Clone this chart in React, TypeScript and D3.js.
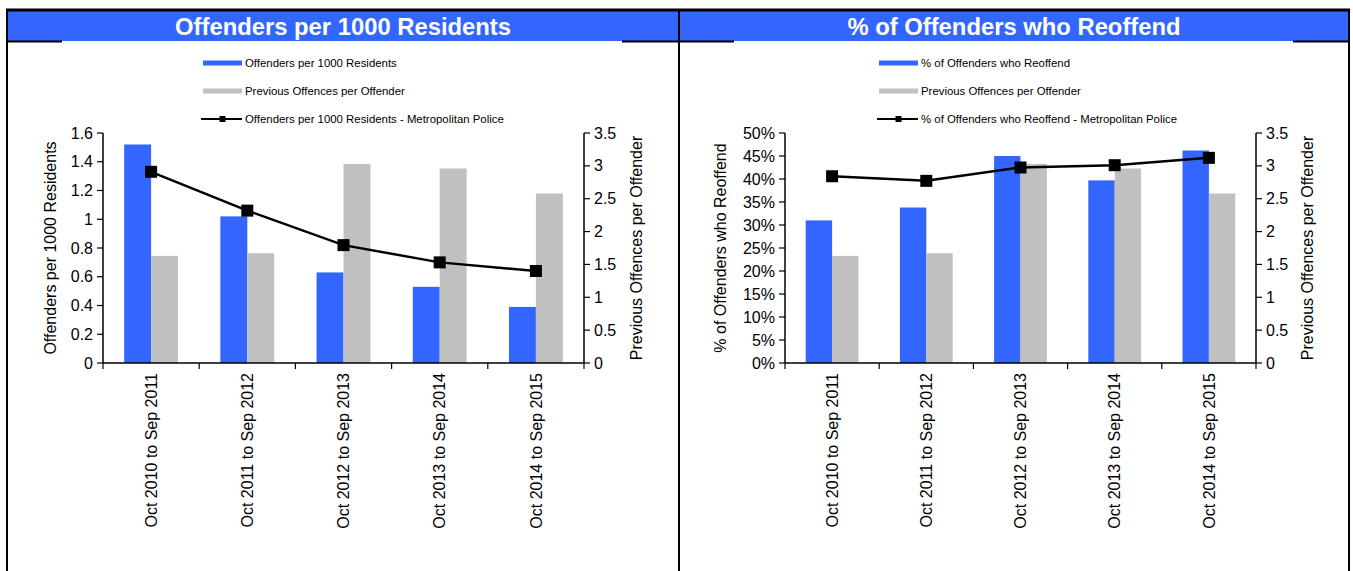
import * as d3 from "d3";

const W = 1353;
const H = 571;
const BLUE = "#3366FF";
const GREY = "#C0C0C0";
const FONT = "'Liberation Sans', Arial, sans-serif";

const categories = [
  "Oct 2010 to Sep 2011",
  "Oct 2011 to Sep 2012",
  "Oct 2012 to Sep 2013",
  "Oct 2013 to Sep 2014",
  "Oct 2014 to Sep 2015",
];

// left panel
const offendersPer1000 = [1.52, 1.02, 0.63, 0.53, 0.39];
const offendersPer1000Met = [1.33, 1.06, 0.82, 0.7, 0.64];
// shared right axis series
const previousOffences = [1.63, 1.67, 3.03, 2.96, 2.58];
// right panel
const reoffendPct = [0.31, 0.338, 0.45, 0.397, 0.462];
const reoffendPctMet = [0.406, 0.396, 0.425, 0.43, 0.446];

const offendersTicks = [0, 0.2, 0.4, 0.6, 0.8, 1, 1.2, 1.4, 1.6];
const pctTicks = [0, 0.05, 0.1, 0.15, 0.2, 0.25, 0.3, 0.35, 0.4, 0.45, 0.5];
const previousTicks = [0, 0.5, 1, 1.5, 2, 2.5, 3, 3.5];

const PLOT_TOP = 133;
const PLOT_BOTTOM = 363;

type PanelProps = {
  left: number;
  right: number;
  gap: [number, number];
  plotX: [number, number];
  title: string;
  barLabel: string;
  lineLabel: string;
  axisTitle: string;
  leftTitleX: number;
  rightTitleX: number;
  legendX: number;
  bars: number[];
  line: number[];
  leftDomain: [number, number];
  leftTicks: number[];
  leftFmt: (v: number) => string;
};

function Panel(p: PanelProps) {
  const x = d3.scaleBand<string>().domain(categories).range(p.plotX).padding(0);
  const yL = d3.scaleLinear().domain(p.leftDomain).range([PLOT_BOTTOM, PLOT_TOP]);
  const yR = d3.scaleLinear().domain([0, 3.5]).range([PLOT_BOTTOM, PLOT_TOP]);
  const bw = x.bandwidth() * 0.28;
  const cx = (c: string) => (x(c) ?? 0) + x.bandwidth() / 2;
  const linePath = d3
    .line<number>()
    .x((_, i) => cx(categories[i]))
    .y((d) => yL(d))(p.line);
  const mid = (p.left + p.right) / 2;
  const midY = (PLOT_TOP + PLOT_BOTTOM) / 2;
  const [x0, x1] = p.plotX;
  const bounds = [...categories.map((c) => x(c) ?? 0), x1];
  const legendRows = [63, 91, 119];

  return (
    <g fontFamily={FONT}>
      {/* header */}
      <rect x={p.left} y={11} width={p.right - p.left} height={30} fill={BLUE} />
      <text
        x={mid}
        y={35}
        textAnchor="middle"
        fill="#fff"
        fontWeight="bold"
        fontSize={23.8}
      >
        {p.title}
      </text>
      <line x1={p.left} x2={p.gap[0]} y1={41.5} y2={41.5} stroke="#000" strokeWidth={2} />
      <line x1={p.gap[1]} x2={p.right} y1={41.5} y2={41.5} stroke="#000" strokeWidth={2} />

      {/* legend */}
      <rect x={p.legendX} y={legendRows[0] - 2.5} width={39} height={5} fill={BLUE} />
      <rect x={p.legendX} y={legendRows[1] - 2.5} width={39} height={5} fill={GREY} />
      <line
        x1={p.legendX - 2}
        x2={p.legendX + 39}
        y1={legendRows[2]}
        y2={legendRows[2]}
        stroke="#000"
        strokeWidth={2}
      />
      <rect x={p.legendX + 16.5} y={legendRows[2] - 3} width={6} height={6} fill="#000" />
      {[p.barLabel, "Previous Offences per Offender", p.lineLabel].map((t, i) => (
        <text key={t} x={p.legendX + 42} y={legendRows[i] + 4} fontSize={11.4} fill="#000">
          {t}
        </text>
      ))}

      {/* bars */}
      {categories.map((c, i) => (
        <g key={c}>
          <rect
            x={cx(c) - bw}
            y={yL(p.bars[i])}
            width={bw}
            height={PLOT_BOTTOM - yL(p.bars[i])}
            fill={BLUE}
          />
          <rect
            x={cx(c)}
            y={yR(previousOffences[i])}
            width={bw}
            height={PLOT_BOTTOM - yR(previousOffences[i])}
            fill={GREY}
          />
        </g>
      ))}

      {/* line */}
      <path d={linePath ?? ""} fill="none" stroke="#000" strokeWidth={2.5} />
      {p.line.map((v, i) => (
        <rect
          key={i}
          x={cx(categories[i]) - 6}
          y={yL(v) - 6}
          width={12}
          height={12}
          fill="#000"
        />
      ))}

      {/* axes */}
      <line x1={x0} x2={x0} y1={PLOT_TOP} y2={PLOT_BOTTOM} stroke="#000" strokeWidth={1.5} />
      <line x1={x1} x2={x1} y1={PLOT_TOP} y2={PLOT_BOTTOM} stroke="#000" strokeWidth={1.5} />
      <line x1={x0} x2={x1} y1={PLOT_BOTTOM} y2={PLOT_BOTTOM} stroke="#000" strokeWidth={1.5} />
      {p.leftTicks.map((t) => (
        <g key={`l${t}`} transform={`translate(${x0},${yL(t)})`}>
          <line x2={-6} stroke="#000" strokeWidth={1.2} />
          <text x={-10} dy="0.35em" textAnchor="end" fontSize={16} fill="#000">
            {p.leftFmt(t)}
          </text>
        </g>
      ))}
      {previousTicks.map((t) => (
        <g key={`r${t}`} transform={`translate(${x1},${yR(t)})`}>
          <line x2={6} stroke="#000" strokeWidth={1.2} />
          <text x={10} dy="0.35em" textAnchor="start" fontSize={16} fill="#000">
            {t}
          </text>
        </g>
      ))}
      {bounds.map((b, i) => (
        <line key={i} x1={b} x2={b} y1={PLOT_BOTTOM} y2={PLOT_BOTTOM + 6} stroke="#000" strokeWidth={1.2} />
      ))}
      {categories.map((c) => (
        <text
          key={c}
          transform={`translate(${cx(c)},${PLOT_BOTTOM + 10}) rotate(-90)`}
          dy="0.35em"
          textAnchor="end"
          fontSize={16}
          fill="#000"
        >
          {c}
        </text>
      ))}

      {/* axis titles */}
      <text
        transform={`translate(${p.leftTitleX},${midY}) rotate(-90)`}
        dy="0.35em"
        textAnchor="middle"
        fontSize={16}
        fill="#000"
      >
        {p.axisTitle}
      </text>
      <text
        transform={`translate(${p.rightTitleX},${midY}) rotate(-90)`}
        dy="0.35em"
        textAnchor="middle"
        fontSize={16}
        fill="#000"
      >
        Previous Offences per Offender
      </text>
    </g>
  );
}

export default function App() {
  return (
    <svg
      width={W}
      height={H}
      style={{ position: "absolute", left: 0, top: 0, background: "#fff" }}
    >
      <rect width={W} height={H} fill="#fff" />
      <Panel
        left={7}
        right={679}
        gap={[62, 622]}
        plotX={[103, 584]}
        title="Offenders per 1000 Residents"
        barLabel="Offenders per 1000 Residents"
        lineLabel="Offenders per 1000 Residents - Metropolitan Police"
        axisTitle="Offenders per 1000 Residents"
        leftTitleX={50}
        rightTitleX={636}
        legendX={203}
        bars={offendersPer1000}
        line={offendersPer1000Met}
        leftDomain={[0, 1.6]}
        leftTicks={offendersTicks}
        leftFmt={(v) => String(v)}
      />
      <Panel
        left={679}
        right={1349}
        gap={[734, 1293]}
        plotX={[785, 1256]}
        title="% of Offenders who Reoffend"
        barLabel="% of Offenders who Reoffend"
        lineLabel="% of Offenders who Reoffend - Metropolitan Police"
        axisTitle="% of Offenders who Reoffend"
        leftTitleX={720}
        rightTitleX={1307}
        legendX={879}
        bars={reoffendPct}
        line={reoffendPctMet}
        leftDomain={[0, 0.5]}
        leftTicks={pctTicks}
        leftFmt={d3.format(".0%")}
      />
      {/* outer frame */}
      <line x1={6} x2={1350} y1={10} y2={10} stroke="#000" strokeWidth={3} />
      <line x1={7} x2={7} y1={10} y2={H} stroke="#000" strokeWidth={2} />
      <line x1={679} x2={679} y1={10} y2={H} stroke="#000" strokeWidth={2} />
      <line x1={1349} x2={1349} y1={10} y2={H} stroke="#000" strokeWidth={2} />
    </svg>
  );
}
